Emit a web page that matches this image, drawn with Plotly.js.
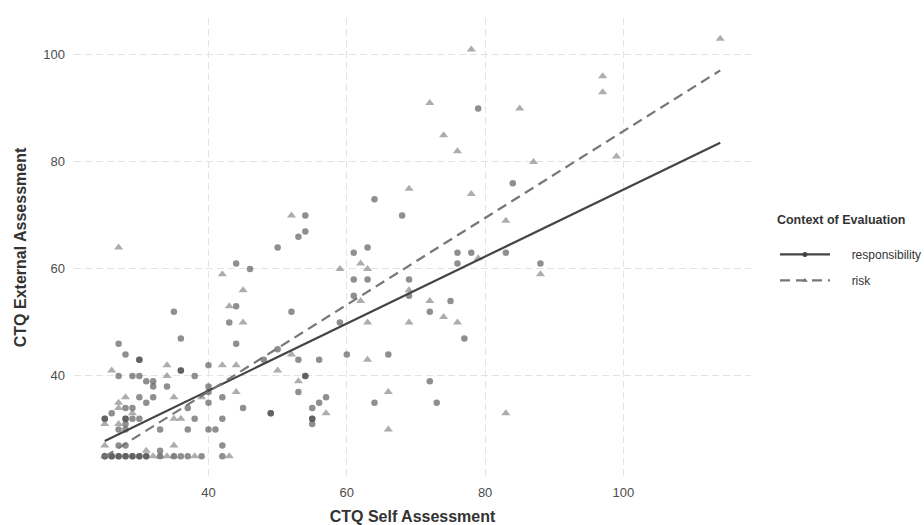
<!DOCTYPE html>
<html>
<head>
<meta charset="utf-8">
<script src="https://cdn.plot.ly/plotly-3.0.1.min.js"></script>
<style>
html,body{margin:0;padding:0;background:#fff;}
#chart{width:924px;height:525px;}
</style>
</head>
<body>
<div id="chart"></div>
<script>
// Responsibility context (circles)
const respX = [79,84,64,68,54,54,53,50,63,61,76,78,83,76,88,44,46,61,63,69,69,61,75,72,52,35,59,43,44,77,36,27,44,50,60,66,28,53,56,48,30,30,54,54,72,36,36,40,27,29,30,38,31,32,32,34,40,40,53,30,32,42,57,31,40,56,64,73,28,29,37,45,55,26,49,49,25,25,28,28,29,30,38,42,55,55,55,28,27,28,33,37,40,41,27,28,42,33,25,25,26,26,27,27,28,28,29,29,30,30,31,31,33,35,36,37,39,42];
const respY = [90,76,73,70,70,67,66,64,64,63,63,63,63,61,61,61,60,58,58,58,55,55,54,52,52,52,50,50,53,47,47,46,46,45,44,44,44,43,43,43,43,43,40,40,39,41,41,42,40,40,40,40,39,39,38,38,38,37,37,36,36,36,36,35,35,35,35,35,34,34,34,34,34,33,33,33,32,32,32,32,32,32,32,32,32,32,31,31,30,30,30,30,30,30,27,27,27,26,25,25,25,25,25,25,25,25,25,25,25,25,25,25,25,25,25,25,25,25];
// Risk context (triangles)
const riskX = [114,78,97,97,72,85,74,76,99,87,69,78,52,83,27,62,79,59,63,42,88,45,69,62,72,43,74,76,69,63,45,52,63,34,42,44,26,50,34,53,44,66,28,35,39,27,27,29,57,83,35,36,25,27,66,25,35,31,25,32,33,34,35,38,43];
const riskY = [103,101,96,93,91,90,85,82,81,80,75,74,70,69,64,61,62,60,60,59,59,56,56,54,54,53,51,50,50,50,50,44,43,42,42,42,41,41,40,39,37,37,36,36,36,35,34,33,33,33,32,32,31,31,30,27,27,26,25,25,25,25,25,25,25];
// Linear fit lines
const respFitX = [25, 114];
const respFitY = [27.85, 83.6];
const riskFitX = [25, 114];
const riskFitY = [24.9, 97.1];
const seriesNames = ['responsibility', 'risk'];
const xTicks = [40, 60, 80, 100];
const yTicks = [40, 60, 80, 100];

const respColor = '#444444';
const riskColor = '#777777';
const FONT = '"Liberation Sans", Arial, sans-serif';
const PAD = '\u00a0\u00a0\u00a0\u00a0\u00a0';

const traces = [
  {x: respX, y: respY, type: 'scatter', mode: 'markers', showlegend: false,
   marker: {symbol: 'circle', size: 6.5, color: respColor, opacity: 0.6, line: {width: 0}}},
  {x: riskX, y: riskY, type: 'scatter', mode: 'markers', showlegend: false,
   marker: {symbol: 'triangle-up', size: 8, color: riskColor, opacity: 0.6, line: {width: 0}}},
  {x: respFitX, y: respFitY, type: 'scatter', mode: 'lines', showlegend: false,
   line: {color: respColor, width: 2.2}},
  {x: riskFitX, y: riskFitY, type: 'scatter', mode: 'lines', showlegend: false,
   line: {color: riskColor, width: 2.2, dash: '10px,6px'}},
  {x: [null], y: [null], type: 'scatter', mode: 'lines+markers', name: PAD + seriesNames[0], legendgroup: 'a',
   line: {color: respColor, width: 2.2}, marker: {symbol: 'circle', size: 5, color: respColor}},
  {x: [null], y: [null], type: 'scatter', mode: 'lines+markers', name: PAD + seriesNames[1], legendgroup: 'b',
   line: {color: riskColor, width: 2.2, dash: '10px,6px'}, marker: {symbol: 'triangle-up', size: 5, color: riskColor}}
];

const axisCommon = {
  showline: false, zeroline: false, ticks: '',
  showgrid: true, gridcolor: '#e3e3e3', gridwidth: 1, griddash: '7px,4px',
  tickfont: {family: FONT, size: 13, color: '#4d4d4d'}
};

const layout = {
  width: 924, height: 525,
  margin: {l: 74, r: 173, t: 18, b: 48},
  paper_bgcolor: '#ffffff', plot_bgcolor: '#ffffff',
  font: {family: FONT, color: '#333'},
  xaxis: Object.assign({}, axisCommon, {
    range: [20.55, 118.45], tickvals: xTicks, ticktext: xTicks.map(String),
    ticklabelstandoff: 6,
    title: {text: 'CTQ Self Assessment', font: {family: FONT, size: 16, color: '#333', weight: 'bold'}, standoff: 12}
  }),
  yaxis: Object.assign({}, axisCommon, {
    range: [21.1, 106.9], tickvals: yTicks, ticktext: yTicks.map(String),
    ticklabelstandoff: 8,
    title: {text: 'CTQ External Assessment', font: {family: FONT, size: 16, color: '#333', weight: 'bold'}, standoff: 12}
  }),
  legend: {
    xref: 'container', yref: 'container',
    x: 0.8387, xanchor: 'left', y: 0.605, yanchor: 'top',
    bgcolor: 'rgba(0,0,0,0)', borderwidth: 0,
    traceorder: 'grouped', tracegroupgap: 7, itemwidth: 50,
    font: {family: FONT, size: 12, color: '#333'},
    title: {text: 'Context of Evaluation<br> ', font: {family: FONT, size: 12.5, color: '#333', weight: 'bold'}}
  },
  showlegend: true
};

Plotly.newPlot('chart', traces, layout, {displayModeBar: false, staticPlot: true});
</script>
</body>
</html>
